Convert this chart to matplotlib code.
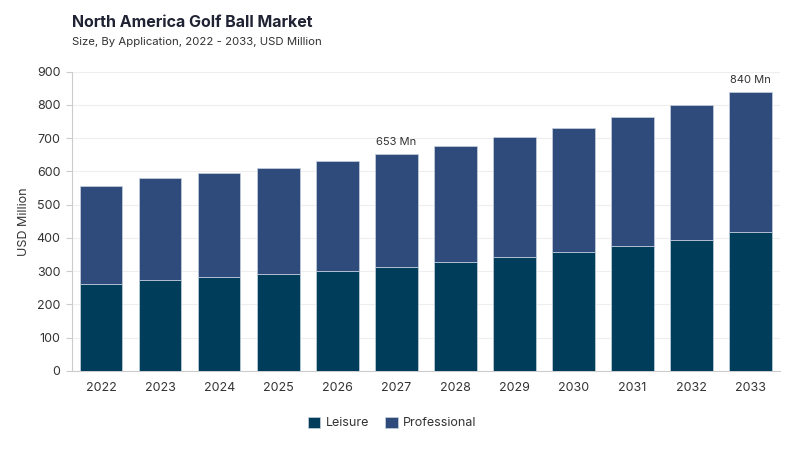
import matplotlib
matplotlib.use("Agg")
import matplotlib.pyplot as plt
from matplotlib.patches import Patch

years = ["2022", "2023", "2024", "2025", "2026", "2027", "2028", "2029", "2030", "2031", "2032", "2033"]
leisure = [262, 274, 284, 293, 302, 314, 329, 343, 359, 377, 395, 418]
totals = [555, 580, 594, 611, 630, 653, 676, 703, 732, 764, 800, 840]
professional = [t - l for t, l in zip(totals, leisure)]
annot_idx = [5, 11]
annot_labels = ["653 Mn", "840 Mn"]

plt.rcParams['font.family'] = ['Inter', 'DejaVu Sans']

c_leis = "#003d5b"
c_prof = "#2f4b7c"
txt = "#333333"

fig = plt.figure(figsize=(8, 4.5), dpi=100)
ax = fig.add_axes([0.0896, 0.1756, 0.8854, 0.6651])

x = list(range(len(years)))
ax.bar(x, leisure, width=0.72, color=c_leis, edgecolor="#c8d3df", linewidth=0.5, zorder=3)
ax.bar(x, professional, bottom=leisure, width=0.72, color=c_prof, edgecolor="#c8d3df", linewidth=0.5, zorder=3)

for i, lab in zip(annot_idx, annot_labels):
    ax.annotate(lab, (i, totals[i]), xytext=(0, 5), textcoords="offset points",
                ha="center", va="bottom", fontsize=8, color=txt)

ax.set_xlim(-0.5, 11.5)
ax.set_ylim(0, 900)
ax.set_yticks(range(0, 901, 100))
ax.set_xticks(x)
ax.set_xticklabels(years)
ax.tick_params(axis="x", length=0, pad=8, labelsize=9, labelcolor=txt)
ax.tick_params(axis="y", length=4, color="#cccccc", pad=4, labelsize=9, labelcolor=txt)
ax.grid(axis="y", color="#eeeeee", linewidth=0.8, zorder=0)
ax.set_axisbelow(True)
for s in ["top", "right"]:
    ax.spines[s].set_visible(False)
ax.spines["left"].set_color("#cccccc")
ax.spines["bottom"].set_color("#cccccc")
ax.set_ylabel("USD Million", fontsize=9, color=txt, labelpad=5)

fig.text(0.09, 0.951, "North America Golf Ball Market", fontsize=11.5, fontweight="bold",
         color="#1f2333", ha="left", va="center")
fig.text(0.09, 0.907, "Size, By Application, 2022 - 2033, USD Million", fontsize=8.2,
         color=txt, ha="left", va="center")

handles = [Patch(facecolor=c_leis, edgecolor="#c8d3df", linewidth=0.5, label="Leisure"),
           Patch(facecolor=c_prof, edgecolor="#c8d3df", linewidth=0.5, label="Professional")]
leg = fig.legend(handles=handles, loc="center", bbox_to_anchor=(0.49, 0.06), ncol=2,
                 frameon=False, fontsize=9, handlelength=1.0, handleheight=1.0,
                 handletextpad=0.4, columnspacing=1.3)
for t in leg.get_texts():
    t.set_color(txt)

fig.savefig("out.png", dpi=100)
